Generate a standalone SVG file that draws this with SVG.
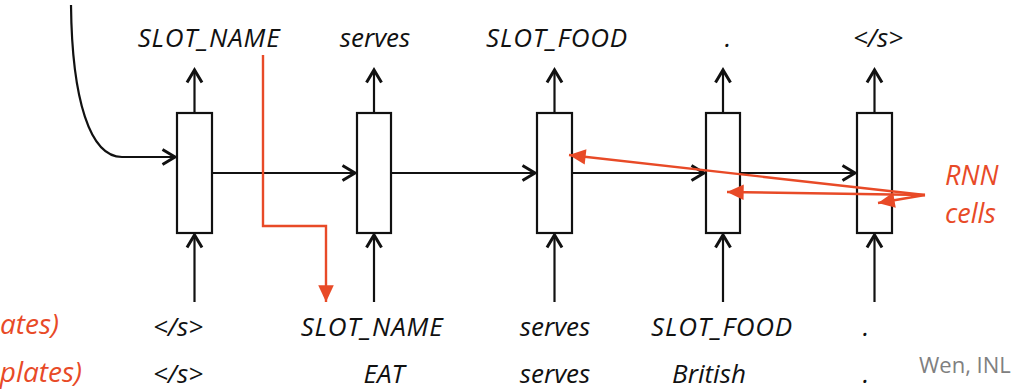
<svg xmlns="http://www.w3.org/2000/svg" width="1011" height="389" viewBox="0 0 1011 389">
<defs>
<style>
.t{font-family:"Open Sans","Liberation Sans",sans-serif;font-style:italic;font-size:26px;fill:#111;text-anchor:middle}
.s{letter-spacing:0.8px}
.r{font-family:"Open Sans","Liberation Sans",sans-serif;font-style:italic;font-size:26px;fill:#E84A27}
.r28{font-size:28px}
.r27{font-size:27px}
.cell{fill:#fff;stroke:#111;stroke-width:2.2}
.k{fill:none;stroke:#111;stroke-width:2.2}
.red{fill:none;stroke:#E84A27;stroke-width:2.4}
</style>
<marker id="ah" markerUnits="userSpaceOnUse" markerWidth="20" markerHeight="20" viewBox="-12 -8 14 16" refX="0" refY="0" orient="auto">
<path d="M-10,-6 L0,0 L-10,6" fill="none" stroke="#111" stroke-width="2.4"/>
</marker>
<marker id="rh" markerUnits="userSpaceOnUse" markerWidth="20" markerHeight="20" viewBox="-16 -8 18 16" refX="0" refY="0" orient="auto">
<path d="M-15,-7 L0,0 L-15,7 Z" fill="#E84A27"/>
</marker>
</defs>
<g id="connectors">
<path class="k" d="M71,5 C72,100 90,157 122,157 L175,157" marker-end="url(#ah)"/>
<line class="k" x1="212" y1="173" x2="355" y2="173" marker-end="url(#ah)"/>
<line class="k" x1="391" y1="173" x2="535" y2="173" marker-end="url(#ah)"/>
<line class="k" x1="572" y1="173" x2="704" y2="173" marker-end="url(#ah)"/>
<line class="k" x1="740" y1="173" x2="855" y2="173" marker-end="url(#ah)"/>
<line class="k" x1="194.5" y1="113" x2="194.5" y2="70" marker-end="url(#ah)"/>
<line class="k" x1="374" y1="113" x2="374" y2="70" marker-end="url(#ah)"/>
<line class="k" x1="554.5" y1="113" x2="554.5" y2="70" marker-end="url(#ah)"/>
<line class="k" x1="723" y1="113" x2="723" y2="70" marker-end="url(#ah)"/>
<line class="k" x1="874.5" y1="113" x2="874.5" y2="70" marker-end="url(#ah)"/>
<line class="k" x1="194.5" y1="302" x2="194.5" y2="235" marker-end="url(#ah)"/>
<line class="k" x1="374" y1="302" x2="374" y2="235" marker-end="url(#ah)"/>
<line class="k" x1="554.5" y1="302" x2="554.5" y2="235" marker-end="url(#ah)"/>
<line class="k" x1="723" y1="302" x2="723" y2="235" marker-end="url(#ah)"/>
<line class="k" x1="874.5" y1="302" x2="874.5" y2="235" marker-end="url(#ah)"/>
</g>
<g id="cell1"><rect class="cell" x="177" y="113" width="35" height="120"/></g>
<g id="cell2"><rect class="cell" x="357" y="113" width="34" height="120"/></g>
<g id="cell3"><rect class="cell" x="537" y="113" width="35" height="120"/></g>
<g id="cell4"><rect class="cell" x="706" y="113" width="34" height="120"/></g>
<g id="cell5"><rect class="cell" x="857" y="113" width="35" height="120"/></g>
<g id="red-connectors">
<path class="red" d="M263,55 L263,226 L326,226 L326,302" marker-end="url(#rh)"/>
<line class="red" x1="925" y1="195" x2="569" y2="155" marker-end="url(#rh)"/>
<line class="red" x1="925" y1="195" x2="727" y2="192" marker-end="url(#rh)"/>
<line class="red" x1="925" y1="195" x2="878" y2="203" marker-end="url(#rh)"/>
</g>
<g id="labels-top">
<text class="t s" x="209" y="47">SLOT_NAME</text>
<text class="t" x="375" y="47">serves</text>
<text class="t s" x="557" y="47">SLOT_FOOD</text>
<text class="t" x="728" y="47">.</text>
<text class="t" x="878" y="47">&lt;/s&gt;</text>
</g>
<g id="labels-in1">
<text class="t" x="178" y="336">&lt;/s&gt;</text>
<text class="t s" x="372" y="336">SLOT_NAME</text>
<text class="t" x="555" y="336">serves</text>
<text class="t s" x="722" y="336">SLOT_FOOD</text>
<text class="t" x="866" y="336">.</text>
</g>
<g id="labels-in2">
<text class="t" x="178" y="383">&lt;/s&gt;</text>
<text class="t" x="384" y="383">EAT</text>
<text class="t" x="555" y="383">serves</text>
<text class="t" x="709" y="383">British</text>
<text class="t" x="866" y="383">.</text>
</g>
<g id="side">
<text class="r r28" x="59" y="334" text-anchor="end">ates)</text>
<text class="r r28" x="82" y="382" text-anchor="end">plates)</text>
<text class="r r27" x="945" y="185">RNN</text>
<text class="r r27" x="945" y="223">cells</text>
<text x="919" y="373" font-family="'Open Sans','Liberation Sans',sans-serif" font-size="22" fill="#808080">Wen, INL</text>
</g>
</svg>
